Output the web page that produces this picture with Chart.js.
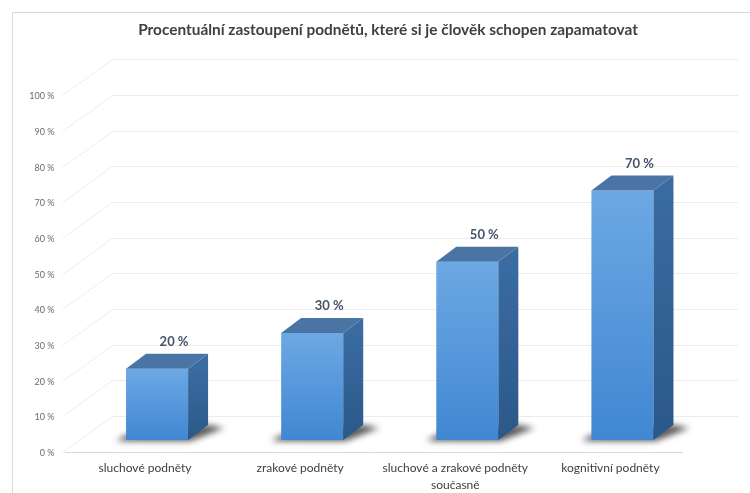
<!DOCTYPE html>
<html lang="cs">
<head>
<meta charset="UTF-8">
<title>Procentuální zastoupení podnětů</title>
<script src="https://cdn.jsdelivr.net/npm/chart.js"></script>
<style>
  html, body { margin: 0; padding: 0; background: #fff; }
  #wrap { width: 750px; height: 493px; }
</style>
</head>
<body>
<div id="wrap"><canvas id="memChart"></canvas></div>
<script>
const categories = [
  'sluchové podněty',
  'zrakové podněty',
  ['sluchové a zrakové podněty', 'současně'],
  'kognitivní podněty'
];
const percentValues = [20, 30, 50, 70];
const yTickValues = [0, 10, 20, 30, 40, 50, 60, 70, 80, 90, 100];
const titleText = 'Procentuální zastoupení podnětů, které si je člověk schopen zapamatovat';

// hloubka 3D kvádru
const DX = 20, DY = 15;

function frontGradient(ctx) {
  const chart = ctx.chart;
  const ys = chart.scales.y;
  if (!ys || !chart.chartArea) return '#5b9bd5';
  const top = ys.getPixelForValue(ctx.raw), base = ys.getPixelForValue(0);
  const g = chart.ctx.createLinearGradient(0, top, 0, base);
  g.addColorStop(0, '#6da8e4');
  g.addColorStop(1, '#4087d2');
  return g;
}

const threeD = {
  id: 'threeD',
  beforeDraw(chart) {
    const c = chart.ctx;
    c.save();
    c.strokeStyle = '#d9d9d9';
    c.lineWidth = 1;
    c.strokeRect(12.5, 12.5, 800, 600);
    c.restore();
  },
  beforeDatasetsDraw(chart) {
    const c = chart.ctx, ys = chart.scales.y, area = chart.chartArea;
    c.save();
    c.lineWidth = 1;
    c.strokeStyle = '#ececec';
    yTickValues.forEach(v => {
      const py = Math.round(ys.getPixelForValue(v)) + 0.5;
      c.beginPath();
      c.moveTo(area.left - 17, py + 12);
      c.lineTo(area.left + 33, py - 24);
      c.lineTo(area.right + 38, py - 24);
      c.stroke();
    });
    const y0 = Math.round(ys.getPixelForValue(0)) + 12.5;
    c.strokeStyle = '#d9d9d9';
    c.beginPath();
    c.moveTo(area.left - 15, y0);
    c.lineTo(area.right - 17, y0);
    c.stroke();

    // stíny pod sloupci
    const meta = chart.getDatasetMeta(0);
    c.filter = 'blur(3px)';
    c.fillStyle = 'rgba(30,30,30,0.75)';
    meta.data.forEach(bar => {
      const l = bar.x - bar.width / 2, r = bar.x + bar.width / 2, b = bar.base;
      c.beginPath();
      c.moveTo(l - 10, b + 1);
      c.lineTo(r + 2, b + 1);
      c.lineTo(r + DX + 16, b - DY + 3);
      c.lineTo(r + DX, b - DY);
      c.lineTo(l, b - 5);
      c.closePath();
      c.fill();
    });
    c.restore();
  },
  afterDatasetsDraw(chart) {
    const c = chart.ctx;
    const meta = chart.getDatasetMeta(0);
    c.save();
    meta.data.forEach((bar, i) => {
      const l = bar.x - bar.width / 2, r = bar.x + bar.width / 2, t = bar.y, b = bar.base;
      // boční stěna
      const gs = c.createLinearGradient(0, t, 0, b);
      gs.addColorStop(0, '#3a6ba1');
      gs.addColorStop(1, '#2a5889');
      c.fillStyle = gs;
      c.beginPath();
      c.moveTo(r, t);
      c.lineTo(r + DX, t - DY);
      c.lineTo(r + DX, b - DY);
      c.lineTo(r, b);
      c.closePath();
      c.fill();
      // horní stěna
      c.fillStyle = '#4a74a3';
      c.beginPath();
      c.moveTo(l, t);
      c.lineTo(l + DX, t - DY);
      c.lineTo(r + DX, t - DY);
      c.lineTo(r, t);
      c.closePath();
      c.fill();
      // popisek hodnoty
      c.fillStyle = '#44546a';
      c.font = 'bold 13px Lato, sans-serif';
      c.textAlign = 'center';
      c.textBaseline = 'middle';
      c.fillText(percentValues[i] + ' %', bar.x + 17, t - 27);
    });
    c.restore();
  }
};

new Chart(document.getElementById('memChart'), {
  type: 'bar',
  data: {
    labels: categories,
    datasets: [{
      data: percentValues,
      backgroundColor: frontGradient,
      borderWidth: 0,
      barPercentage: 0.4,
      categoryPercentage: 1
    }]
  },
  options: {
    responsive: true,
    maintainAspectRatio: false,
    animation: false,
    layout: { padding: { top: 14, left: 26, right: 0, bottom: 0 } },
    plugins: {
      legend: { display: false },
      tooltip: { enabled: false },
      title: {
        display: true,
        text: titleText,
        color: '#404040',
        font: { family: 'Lato', size: 15.4, weight: 'bold', lineHeight: 1.2 },
        padding: { top: 7, bottom: 44 }
      }
    },
    scales: {
      x: {
        grid: { display: false, drawTicks: false },
        border: { display: false },
        ticks: {
          color: '#404040',
          font: { family: 'Lato', size: 12, lineHeight: 1.45 },
          padding: 19,
          labelOffset: -12,
          maxRotation: 0,
          autoSkip: false
        },
        afterFit(scale) { scale.height = 53; }
      },
      y: {
        min: 0,
        max: 100,
        grid: { display: false, drawTicks: false },
        border: { display: false },
        afterBuildTicks(scale) { scale.ticks = yTickValues.map(v => ({ value: v })); },
        afterFit(scale) { scale.width = 53.5; },
        ticks: {
          color: '#6b6b6b',
          font: { family: 'Lato', size: 9 },
          padding: 25,
          labelOffset: 13,
          callback: v => v + ' %'
        }
      },
      // prázdná pravá osa, jen drží místo vpravo
      yRight: {
        position: 'right',
        min: 0,
        max: 100,
        grid: { display: false, drawTicks: false },
        border: { display: false },
        ticks: { display: false },
        afterFit(scale) { scale.width = 50; }
      }
    }
  },
  plugins: [threeD]
});
</script>
</body>
</html>
